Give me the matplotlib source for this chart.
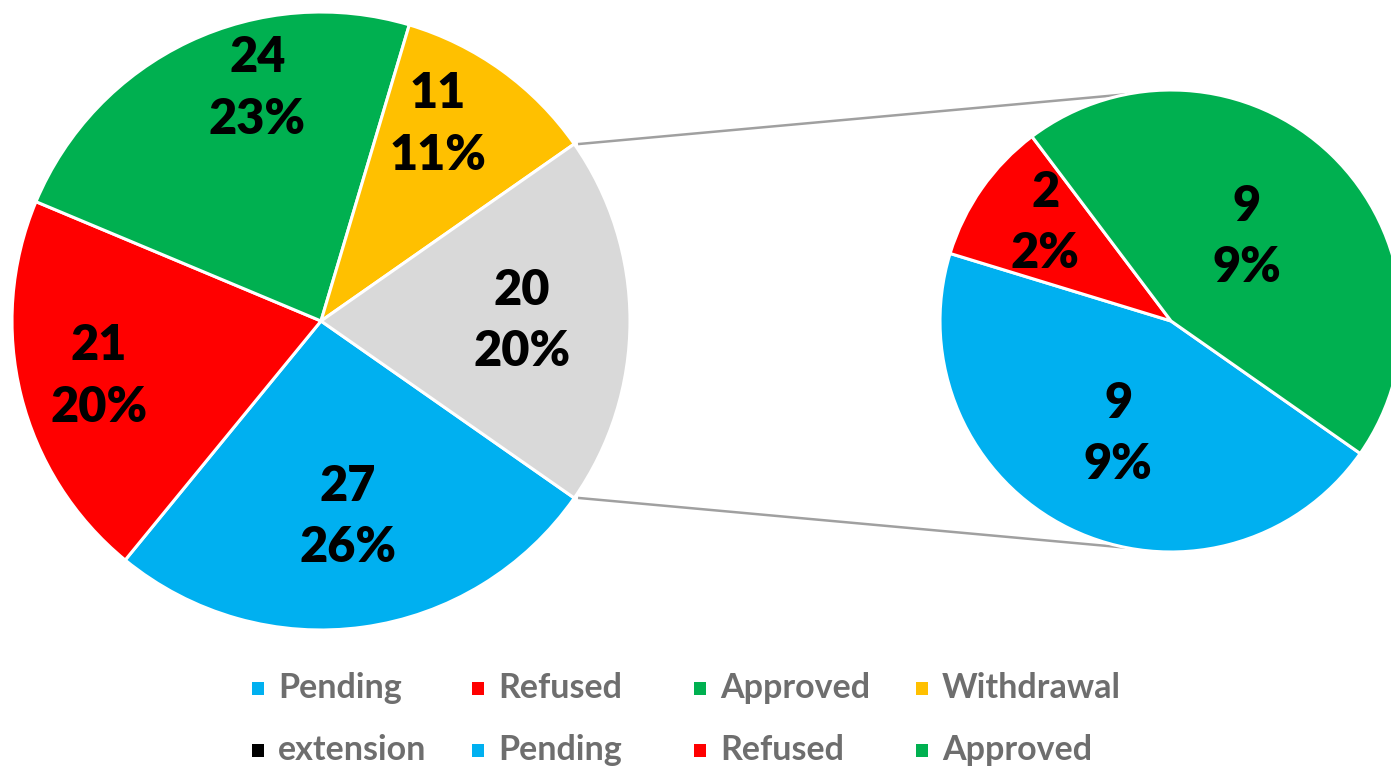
import matplotlib
matplotlib.use("Agg")
import matplotlib.pyplot as plt
import numpy as np
from matplotlib.patches import Rectangle

# ---- data ----
main_labels = ["Pending", "Refused", "Approved", "Withdrawal", "extension"]
main_values = [27, 21, 24, 11, 20]
main_pcts = [26, 20, 23, 11, 20]
main_colors = ["#00B0F0", "#FF0000", "#00B050", "#FFC000", "#D9D9D9"]

sub_labels = ["Pending", "Refused", "Approved"]
sub_values = [9, 2, 9]
sub_pcts = [9, 2, 9]
sub_colors = ["#00B0F0", "#FF0000", "#00B050"]

legend_labels = ["Pending", "Refused", "Approved", "Withdrawal",
                 "extension", "Pending", "Refused", "Approved"]
legend_colors = ["#00B0F0", "#FF0000", "#00B050", "#FFC000",
                 "#000000", "#00B0F0", "#FF0000", "#00B050"]

W, H = 1391, 767
fig = plt.figure(figsize=(W / 100, H / 100), dpi=100)
ax = fig.add_axes([0, 0, 1, 1])

FONT = "Lato"

# ---- main pie ----
mc = (321, H - 321)
mr = 309
other_frac = main_values[-1] / sum(main_values)
start_main = -360 * other_frac / 2
wedges_m, _ = ax.pie(main_values, colors=main_colors, startangle=start_main,
                     counterclock=False, center=mc, radius=mr,
                     wedgeprops=dict(edgecolor="white", linewidth=2.2),
                     frame=True)

# ---- secondary pie ----
sc = (1171, H - 321)
sr = 231
wedges_s, _ = ax.pie(sub_values, colors=sub_colors, startangle=-35,
                     counterclock=False, center=sc, radius=sr,
                     wedgeprops=dict(edgecolor="white", linewidth=2.2),
                     frame=True)

ax.set_xlim(0, W)
ax.set_ylim(0, H)
ax.set_aspect("auto")
ax.axis("off")

# ---- data labels ----
main_lab_pos = [(0.64, 0), (0.74, 0), (0.78, -10), (0.74, 5), (0.65, 0)]
sub_lab_pos = [(0.54, 1), (0.69, -3), (0.49, 2)]


def place_labels(wedges, values, pcts, center, radius, posinfo):
    for w, v, p, (d, off) in zip(wedges, values, pcts, posinfo):
        ang = np.deg2rad((w.theta1 + w.theta2) / 2 + off)
        x = center[0] + d * radius * np.cos(ang)
        y = center[1] + d * radius * np.sin(ang)
        ax.text(x, y, f"{v}\n{p}%", ha="center", va="center",
                fontsize=35, fontweight="heavy", color="black",
                family=FONT, linespacing=1.45)


place_labels(wedges_m, main_values, main_pcts, mc, mr, main_lab_pos)
place_labels(wedges_s, sub_values, sub_pcts, sc, sr, sub_lab_pos)

# ---- connector lines ----
gw = wedges_m[-1]
for t_main, t_sub in ((gw.theta2, 101), (gw.theta1, -101)):
    a = np.deg2rad(t_main)
    b = np.deg2rad(t_sub)
    x0 = mc[0] + mr * np.cos(a) + 5
    y0 = mc[1] + mr * np.sin(a)
    x1 = sc[0] + sr * np.cos(b)
    y1 = sc[1] + sr * np.sin(b)
    ax.plot([x0, x1], [y0, y1], color="#A0A0A0", lw=1.8, zorder=0.5)

# ---- legend (manual, Excel-like fixed columns) ----
col_x = [258, 478, 700, 922]
row_y = [H - 688, H - 750]
for i, (lab, col) in enumerate(zip(legend_labels, legend_colors)):
    r, c = divmod(i, 4)
    x = col_x[c]
    y = row_y[r]
    ax.add_patch(Rectangle((x - 6, y - 7), 12, 13, facecolor=col,
                           edgecolor="none"))
    ax.text(x + 20, y, lab, ha="left", va="center", fontsize=24.5,
            fontweight="bold", color="#6E6E6E", family=FONT)

fig.savefig("out.png", dpi=100)
